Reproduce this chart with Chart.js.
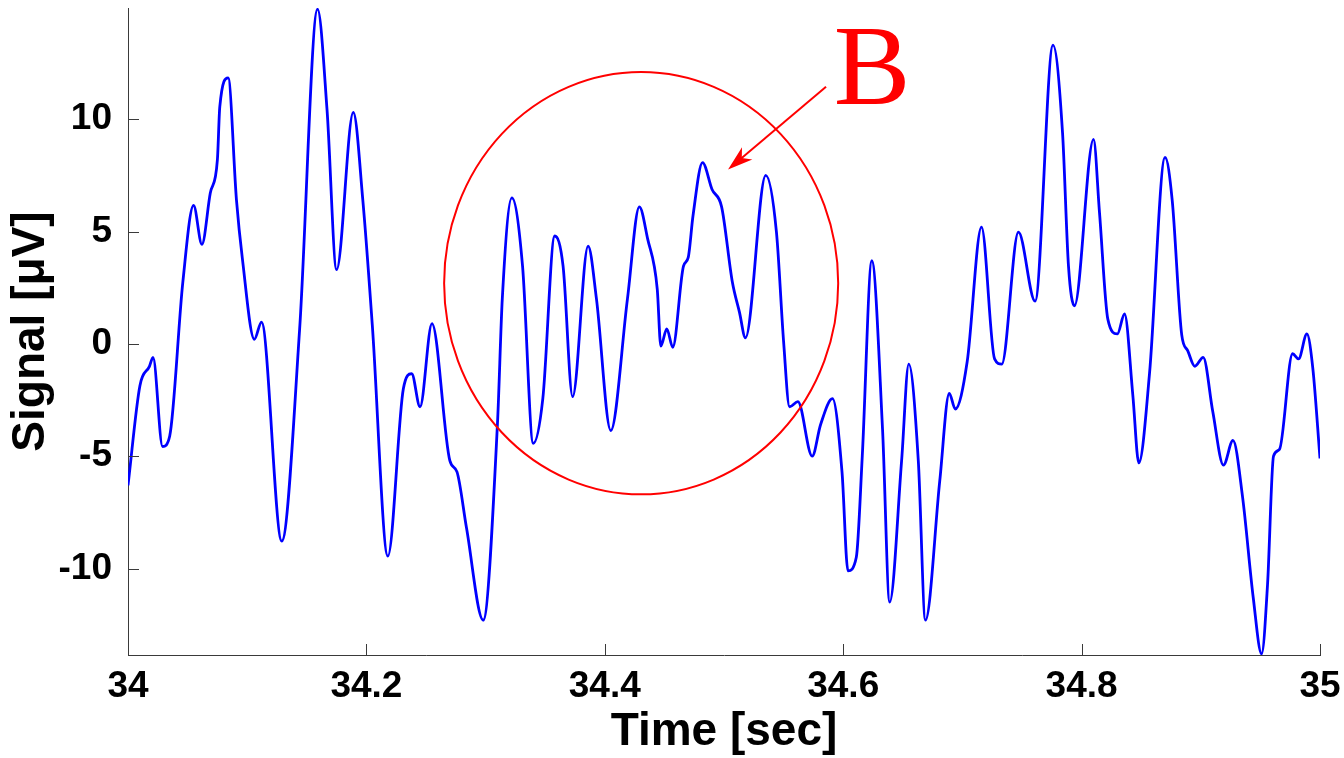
<!DOCTYPE html>
<html>
<head>
<meta charset="utf-8">
<script src="https://cdn.jsdelivr.net/npm/chart.js@4"></script>
<style>
  html, body { margin: 0; padding: 0; background: #fff; }
  #wrap { width: 1344px; height: 758px; }
</style>
</head>
<body>
<div id="wrap"><canvas id="graph" width="1344" height="758"></canvas></div>
<script>
// time axis (sec) and signal (uV), peaks and troughs
const timeSec = [
    34.000, 34.010, 34.018, 34.021, 34.029, 34.035, 34.046, 34.055, 34.062, 34.069,
    34.075, 34.077, 34.084, 34.091, 34.096, 34.106, 34.112, 34.129, 34.144, 34.159,
    34.167, 34.175, 34.189, 34.197, 34.205, 34.218, 34.231, 34.238, 34.245, 34.255,
    34.270, 34.276, 34.284, 34.298, 34.310, 34.314, 34.322, 34.331, 34.340, 34.348,
    34.358, 34.365, 34.373, 34.386, 34.393, 34.405, 34.419, 34.429, 34.436, 34.444,
    34.447, 34.452, 34.457, 34.466, 34.470, 34.474, 34.482, 34.490, 34.498, 34.507,
    34.513, 34.518, 34.535, 34.544, 34.550, 34.555, 34.562, 34.574, 34.581, 34.591,
    34.599, 34.604, 34.611, 34.616, 34.624, 34.633, 34.639, 34.649, 34.655, 34.663,
    34.669, 34.681, 34.689, 34.694, 34.704, 34.716, 34.727, 34.733, 34.747, 34.761,
    34.776, 34.784, 34.789, 34.794, 34.810, 34.815, 34.822, 34.830, 34.836, 34.843,
    34.848, 34.857, 34.870, 34.876, 34.884, 34.889, 34.895, 34.902, 34.910, 34.919,
    34.927, 34.935, 34.944, 34.951, 34.956, 34.961, 34.966, 34.977, 34.982, 34.989,
    34.994, 35.000
];
const signalUv = [
    -6.3, -1.86, -1.0, -0.6, -4.57, -4.1, 2.75, 6.16, 4.43, 6.7,
    8.2, 10.55, 11.84, 6.4, 3.77, 0.2, 0.97, -8.78, 0.67, 14.9,
    10.4, 3.3, 10.3, 6.4, 0.8, -9.45, -2.0, -1.33, -2.8, 0.9,
    -5.2, -5.7, -8.2, -12.3, -3.5, 2.0, 6.5, 3.46, -4.43, -2.44,
    4.8, 3.46, -2.35, 4.35, 2.0, -3.86, 2.0, 6.1, 4.66, 2.44,
    -0.1, 0.67, -0.15, 3.46, 3.85, 5.7, 8.07, 6.87, 6.1, 2.75,
    1.4, 0.27, 7.5, 4.97, 0.1, -2.8, -2.57, -5.0, -3.6, -2.44,
    -5.7, -10.1, -9.5, -5.0, 3.7, -3.8, -11.5, -5.2, -0.9, -5.2,
    -12.3, -6.1, -2.2, -2.9, -0.8, 5.2, -0.67, -0.9, 4.97, 1.9,
    13.3, 9.4, 3.46, 1.69, 9.1, 5.85, 1.1, 0.44, 1.33, -2.3,
    -5.3, -1.3, 8.3, 6.4, 0.4, -0.3, -1.0, -0.6, -3.0, -5.4,
    -4.3, -6.8, -11.3, -13.8, -10.7, -5.0, -4.7, -0.44, -0.67, 0.44,
    -1.1, -5.1
];
const xTickValues = [34, 34.2, 34.4, 34.6, 34.8, 35];
const yTickValues = [-10, -5, 0, 5, 10];

// annotation "B": circle centre / radii and arrow ends, in data units
const circleCenter = [34.4305, 2.7];
const circleRadius = [0.1653, 9.4];
const arrowFrom = [34.5856, 11.44];
const arrowTo = [34.5034, 7.76];
const labelAt = [34.592, 10.69];
const labelText = 'B';

const FONT = "'Liberation Sans', Arial, Helvetica, sans-serif";
const AXIS_COLOR = '#3a3a3a';

const points = timeSec.map((t, i) => ({ x: t, y: signalUv[i] }));

const innerTicks = {
    id: 'innerTicks',
    afterDraw(chart) {
        const ctx = chart.ctx;
        const xs = chart.scales.x, ys = chart.scales.y;
        const len = 11;
        ctx.save();
        ctx.strokeStyle = AXIS_COLOR;
        ctx.lineWidth = 1;
        ctx.beginPath();
        xTickValues.forEach(v => {
            const px = Math.round(xs.getPixelForValue(v)) + 0.5;
            ctx.moveTo(px, ys.bottom);
            ctx.lineTo(px, ys.bottom - len);
        });
        yTickValues.forEach(v => {
            const py = Math.round(ys.getPixelForValue(v)) + 0.5;
            ctx.moveTo(xs.left, py);
            ctx.lineTo(xs.left + len, py);
        });
        ctx.stroke();
        ctx.restore();
    }
};

const markB = {
    id: 'markB',
    afterDatasetsDraw(chart) {
        const ctx = chart.ctx;
        const xs = chart.scales.x, ys = chart.scales.y;
        const cx = xs.getPixelForValue(circleCenter[0]);
        const cy = ys.getPixelForValue(circleCenter[1]);
        const rx = xs.getPixelForValue(circleCenter[0] + circleRadius[0]) - cx;
        const ry = cy - ys.getPixelForValue(circleCenter[1] + circleRadius[1]);
        ctx.save();
        ctx.strokeStyle = '#ff0000';
        ctx.fillStyle = '#ff0000';
        ctx.lineWidth = 2;
        ctx.beginPath();
        ctx.ellipse(cx, cy, rx, ry, 0, 0, Math.PI * 2);
        ctx.stroke();

        // arrow
        const x1 = xs.getPixelForValue(arrowFrom[0]), y1 = ys.getPixelForValue(arrowFrom[1]);
        const x2 = xs.getPixelForValue(arrowTo[0]), y2 = ys.getPixelForValue(arrowTo[1]);
        const dx = x1 - x2, dy = y1 - y2;
        const d = Math.sqrt(dx * dx + dy * dy);
        const ux = dx / d, uy = dy / d;
        const px = -uy, py = ux;
        ctx.beginPath();
        ctx.moveTo(x1, y1);
        ctx.lineTo(x2 + ux * 14, y2 + uy * 14);
        ctx.stroke();
        ctx.beginPath();
        ctx.moveTo(x2, y2);
        ctx.lineTo(x2 + ux * 25 + px * 8, y2 + uy * 25 + py * 8);
        ctx.lineTo(x2 + ux * 18, y2 + uy * 18);
        ctx.lineTo(x2 + ux * 25 - px * 8, y2 + uy * 25 - py * 8);
        ctx.closePath();
        ctx.fill();

        ctx.font = "115px 'Liberation Serif', 'Times New Roman', serif";
        ctx.textAlign = 'left';
        ctx.textBaseline = 'alphabetic';
        ctx.fillText(labelText, xs.getPixelForValue(labelAt[0]), ys.getPixelForValue(labelAt[1]));
        ctx.restore();
    }
};

const ctx = document.getElementById('graph').getContext('2d');
const graph = new Chart(ctx, {
    type: 'line',
    data: {
        datasets: [{
            data: points,
            borderColor: '#0000ff',
            borderWidth: 2.8,
            pointRadius: 0,
            fill: false,
            cubicInterpolationMode: 'monotone'
        }]
    },
    options: {
        responsive: false,
        animation: false,
        layout: { padding: { top: 8, right: 24, left: 0, bottom: 0 } },
        plugins: {
            legend: { display: false },
            tooltip: { enabled: false }
        },
        scales: {
            x: {
                type: 'linear',
                min: 34,
                max: 35,
                afterBuildTicks: s => { s.ticks = xTickValues.map(v => ({ value: v })); },
                afterFit: s => { s.height = 103; s.paddingLeft = 0; s.paddingRight = 0; },
                grid: { display: false, drawTicks: false },
                border: { display: true, color: AXIS_COLOR, width: 1 },
                ticks: {
                    color: '#000',
                    padding: 10,
                    maxRotation: 0,
                    autoSkip: false,
                    font: { family: FONT, size: 37, weight: 'bold' },
                    callback: v => String(Number(v.toFixed(1)))
                },
                title: {
                    display: true,
                    text: 'Time [sec]',
                    color: '#000',
                    padding: { top: 0, bottom: -2 },
                    font: { family: FONT, size: 46, weight: 'bold' }
                }
            },
            y: {
                type: 'linear',
                min: -13.85,
                max: 14.95,
                afterBuildTicks: s => { s.ticks = yTickValues.map(v => ({ value: v })); },
                afterFit: s => { s.width = 128; s.paddingTop = 0; s.paddingBottom = 0; },
                grid: { display: false, drawTicks: false },
                border: { display: true, color: AXIS_COLOR, width: 1 },
                ticks: {
                    color: '#000',
                    padding: 16,
                    autoSkip: false,
                    font: { family: FONT, size: 37, weight: 'bold' }
                },
                title: {
                    display: true,
                    text: 'Signal [\u03bcV]',
                    color: '#000',
                    padding: { top: 4, bottom: 0 },
                    font: { family: FONT, size: 46, weight: 'bold' }
                }
            }
        }
    },
    plugins: [innerTicks, markB]
});
</script>
</body>
</html>
